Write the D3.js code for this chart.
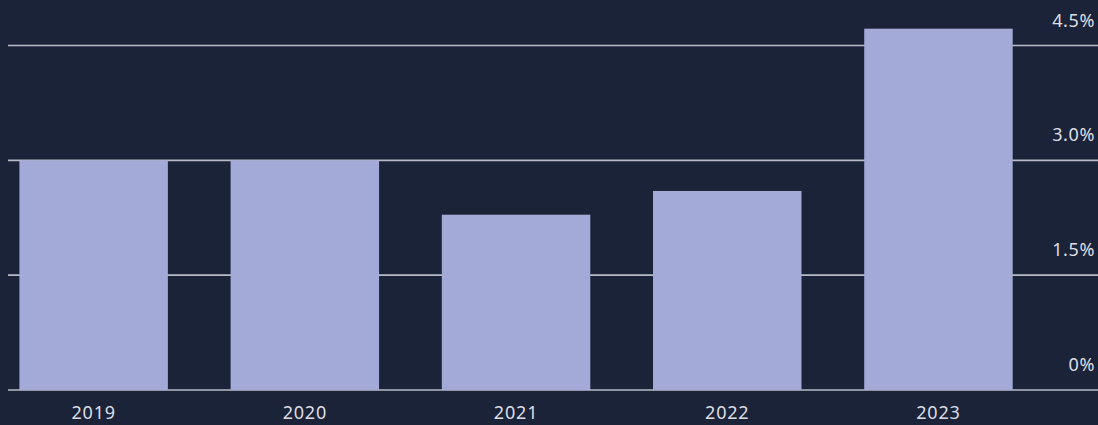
<!DOCTYPE html>
<html>
<head>
<meta charset="utf-8">
<script src="https://cdn.jsdelivr.net/npm/d3@7"></script>
<style>
  html, body { margin: 0; padding: 0; background: #1b2338; }
  svg { display: block; }
</style>
</head>
<body>
<div id="chart"></div>
<script>
// data
var years = ["2019", "2020", "2021", "2022", "2023"];
var rates = [3.0, 3.0, 2.29, 2.6, 4.72];
var tickValues = [0, 1.5, 3.0, 4.5];
var tickLabels = ["0%", "1.5%", "3.0%", "4.5%"];

var width = 1098, height = 425;
var bg = "#1b2338", barColor = "#a3aad8", gridColor = "#b9bcc8", textColor = "#dcdee4";

var svg = d3.select("#chart")
    .append("svg")
    .attr("width", width)
    .attr("height", height)
    .style("font-family", "'Noto Sans', sans-serif");

svg.append("rect").attr("width", width).attr("height", height).attr("fill", bg);

var x = d3.scaleBand().domain(years).range([19.4, 1012.7]).paddingInner(0.297).paddingOuter(0);
var y = d3.scaleLinear().domain([0, 4.5]).range([390, 45.5]);

// grid lines
svg.append("g")
    .selectAll("line")
    .data(tickValues)
    .enter()
    .append("line")
    .attr("x1", 8)
    .attr("x2", width)
    .attr("y1", d => y(d))
    .attr("y2", d => y(d))
    .attr("stroke", gridColor)
    .attr("stroke-width", 1.6);

// tick labels, right side above each line
svg.append("g")
    .selectAll("text")
    .data(tickValues)
    .enter()
    .append("text")
    .attr("x", 1095)
    .attr("y", d => y(d) - 19)
    .attr("text-anchor", "end")
    .attr("fill", textColor)
    .style("font-size", "18px")
    .style("letter-spacing", "0.6px")
    .text((d, i) => tickLabels[i]);

// bars
svg.append("g")
    .selectAll("rect")
    .data(rates)
    .enter()
    .append("rect")
    .attr("x", (d, i) => x(years[i]))
    .attr("y", d => y(d))
    .attr("width", x.bandwidth())
    .attr("height", d => y(0) - y(d))
    .attr("fill", barColor);

// year labels
svg.append("g")
    .selectAll("text")
    .data(years)
    .enter()
    .append("text")
    .attr("x", d => x(d) + x.bandwidth() / 2)
    .attr("y", 419)
    .attr("text-anchor", "middle")
    .attr("fill", textColor)
    .style("font-size", "18px")
    .style("letter-spacing", "0.8px")
    .text(d => d);
</script>
</body>
</html>
